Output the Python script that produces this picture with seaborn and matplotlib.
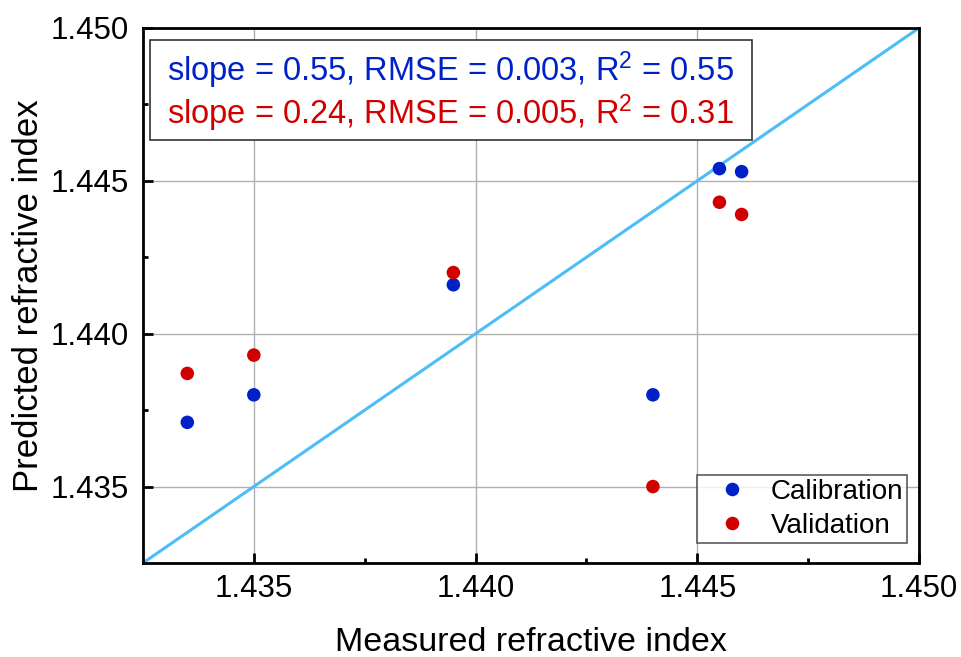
import matplotlib
matplotlib.use("Agg")
import matplotlib.pyplot as plt
import seaborn as sns
import pandas as pd
from matplotlib.patches import Rectangle

# Measured vs. predicted refractive index
measured_cal = [1.4335, 1.4350, 1.4395, 1.4440, 1.4455, 1.4460]
predicted_cal = [1.4371, 1.4380, 1.4416, 1.4380, 1.4454, 1.4453]
measured_val = [1.4335, 1.4350, 1.4395, 1.4440, 1.4455, 1.4460]
predicted_val = [1.4387, 1.4393, 1.4420, 1.4350, 1.4443, 1.4439]
groups = ["Calibration", "Validation"]
stats_cal = "slope = 0.55, RMSE = 0.003, R$^2$ = 0.55"
stats_val = "slope = 0.24, RMSE = 0.005, R$^2$ = 0.31"
ticks = [1.435, 1.440, 1.445, 1.450]
tick_labels = ["1.435", "1.440", "1.445", "1.450"]
lo, hi = 1.4325, 1.450

sns.set_style("white")
plt.rcParams["font.family"] = ["Liberation Sans", "DejaVu Sans"]
plt.rcParams["mathtext.fontset"] = "custom"
plt.rcParams["mathtext.rm"] = "Liberation Sans"
plt.rcParams["mathtext.it"] = "Liberation Sans:italic"
plt.rcParams["text.color"] = "black"
plt.rcParams["axes.labelcolor"] = "black"
plt.rcParams["xtick.color"] = "black"
plt.rcParams["ytick.color"] = "black"

df = pd.DataFrame({
    "measured": measured_cal + measured_val,
    "predicted": predicted_cal + predicted_val,
    "group": [groups[0]] * len(measured_cal) + [groups[1]] * len(measured_val),
})

blue = "#0020c8"
red = "#d00000"

fig = plt.figure(figsize=(9.62, 6.57), dpi=100)
ax = fig.add_axes([0.1486, 0.1431, 0.8067, 0.8143])

ax.grid(True, color="#b0b0b0", linewidth=1.0, zorder=0)
ax.set_axisbelow(True)

ax.plot([lo, hi], [lo, hi], color="#4dbdf7", linewidth=2.2, zorder=1)

sns.scatterplot(data=df, x="measured", y="predicted", hue="group",
                palette={groups[0]: blue, groups[1]: red},
                s=95, edgecolor="none", ax=ax, zorder=3)

ax.set_xlim(lo, hi)
ax.set_ylim(lo, hi)
ax.set_xticks(ticks)
ax.set_xticklabels(tick_labels)
ax.set_yticks(ticks)
ax.set_yticklabels(tick_labels)
ax.set_xticks([1.4375, 1.4425, 1.4475], minor=True)
ax.set_yticks([1.4375, 1.4425, 1.4475], minor=True)
ax.tick_params(axis="both", which="major", direction="in", length=7.5, width=2,
               labelsize=22.5, color="black", labelcolor="black",
               bottom=True, left=True)
ax.tick_params(axis="both", which="minor", direction="in", length=3.8, width=2,
               color="black", bottom=True, left=True)
ax.tick_params(axis="x", which="major", pad=8)
ax.tick_params(axis="y", which="major", pad=10)
ax.tick_params(axis="x", which="both", top=False)
ax.tick_params(axis="y", which="both", right=False)
for sp in ax.spines.values():
    sp.set_visible(True)
    sp.set_color("black")
    sp.set_linewidth(2)

ax.set_xlabel("Measured refractive index", fontsize=24.5, color="black")
ax.set_ylabel("Predicted refractive index", fontsize=25, color="black")
ax.xaxis.label.set_va("baseline")
ax.xaxis.set_label_coords(0.5, -0.1645)
ax.yaxis.label.set_va("baseline")
ax.yaxis.set_label_coords(-0.1353, 0.5)

# Statistics box
ax.add_patch(Rectangle((0.009, 0.79), 0.776, 0.187, transform=ax.transAxes,
                       facecolor="white", edgecolor="#333333", linewidth=1.2,
                       zorder=4))
ax.text(0.031, 0.921, stats_cal, transform=ax.transAxes, color=blue,
        fontsize=23.5, va="center", ha="left", zorder=5)
ax.text(0.031, 0.841, stats_val, transform=ax.transAxes, color=red,
        fontsize=23.5, va="center", ha="left", zorder=5)

leg = ax.legend(loc="lower right", bbox_to_anchor=(0.985, 0.037),
                borderaxespad=0, fontsize=20, frameon=True, fancybox=False,
                title=None, handletextpad=0.3, markerscale=1.0,
                borderpad=0.15, labelspacing=0.3, handlelength=2.2)
leg.get_frame().set_edgecolor("#333333")
leg.get_frame().set_linewidth(1.2)
for t in leg.get_texts():
    t.set_color("black")

fig.savefig("out.png", dpi=100)
